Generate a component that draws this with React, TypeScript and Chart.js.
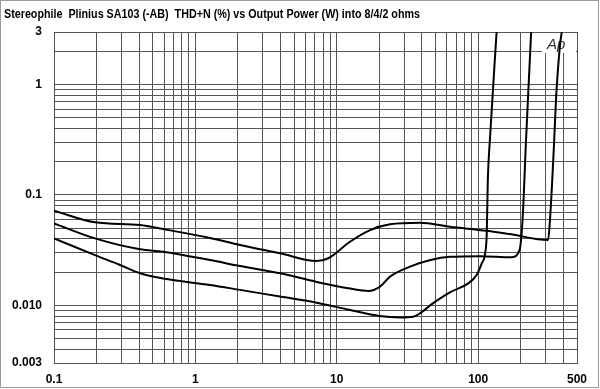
import React, { useEffect, useRef } from "react";
import { Chart, registerables } from "chart.js";
Chart.register(...registerables);

const TITLE = "Stereophile  Plinius SA103 (-AB)  THD+N (%) vs Output Power (W) into 8/4/2 ohms";

const xLabelValues = [0.1, 1, 10, 100, 500];
const xLabelTexts = ["0.1", "1", "10", "100", "500"];
const yLabelValues = [0.003, 0.01, 0.1, 1, 3];
const yLabelTexts = ["0.003", "0.010", "0.1", "1", "3"];

// Curve A (highest at low power, clips last)
const curveAPower = [0.1, 0.195, 0.406, 0.59, 1.27, 2.07, 3.97, 7.21, 8.71, 12.4, 17.2, 23.8, 38.7, 63.1, 115, 168, 312, 322, 345, 355, 379, 390];
const curveATHD = [0.072, 0.0565, 0.0534, 0.0491, 0.0407, 0.0352, 0.0296, 0.0252, 0.0267, 0.0377, 0.0481, 0.0542, 0.056, 0.0515, 0.0474, 0.0442, 0.039, 0.0593, 0.315, 0.724, 2.28, 3];

// Curve B (middle)
const curveBPower = [0.1, 0.195, 0.406, 0.59, 1.27, 2.07, 3.97, 7.21, 12.4, 16.7, 20.1, 23.8, 33.0, 46.0, 63.1, 103, 171, 196, 206, 218, 237];
const curveBTHD = [0.0553, 0.0404, 0.0322, 0.0306, 0.0257, 0.0227, 0.0195, 0.0163, 0.0142, 0.0135, 0.0147, 0.0182, 0.0224, 0.0257, 0.0275, 0.0279, 0.0272, 0.0317, 0.0593, 0.315, 3];

// Curve C (lowest, clips first)
const curveCPower = [0.1, 0.195, 0.293, 0.406, 0.59, 1.27, 2.07, 3.97, 7.21, 12.4, 20.1, 28.2, 34.8, 38.7, 47.8, 63.1, 85, 97.5, 106, 112, 115, 117, 121, 135];
const curveCTHD = [0.0404, 0.0285, 0.0232, 0.0195, 0.0175, 0.0153, 0.0138, 0.012, 0.01056, 0.00906, 0.008, 0.00777, 0.00788, 0.00845, 0.0104, 0.0131, 0.0158, 0.0188, 0.024, 0.0296, 0.0449, 0.136, 0.315, 3];

const FONT = "'Liberation Sans', Arial, Helvetica, sans-serif";

function logGridValues(min: number, max: number): number[] {
  const out: number[] = [];
  const e0 = Math.floor(Math.log10(min));
  const e1 = Math.ceil(Math.log10(max));
  for (let e = e0; e <= e1; e++) {
    for (let m = 1; m <= 9; m++) {
      const v = parseFloat((m * Math.pow(10, e)).toPrecision(4));
      if (v >= min * 0.9999 && v <= max * 1.0001) out.push(v);
    }
  }
  return out;
}

function labelFor(v: number, vals: number[], texts: string[]): string {
  for (let i = 0; i < vals.length; i++) {
    if (Math.abs(v - vals[i]) / vals[i] < 1e-6) return texts[i];
  }
  return "";
}

function toPoints(xs: number[], ys: number[]) {
  return xs.map((x, i) => ({ x, y: ys[i] }));
}

const decorPlugin = {
  id: "decor",
  beforeDatasetsDraw(chart: any) {
    const { ctx, chartArea } = chart;
    ctx.save();
    ctx.fillStyle = "#fff";
    ctx.fillRect(chartArea.right - 35, chartArea.top + 1, 34, 20);
    ctx.fillStyle = "#333";
    ctx.font = `italic 15px ${FONT}`;
    ctx.textBaseline = "alphabetic";
    ctx.fillText("Ap", chartArea.right - 30, chartArea.top + 17);
    ctx.restore();
  },
  afterDraw(chart: any) {
    const { ctx } = chart;
    ctx.save();
    ctx.fillStyle = "#000";
    ctx.font = `bold 12px ${FONT}`;
    ctx.textBaseline = "alphabetic";
    const w = ctx.measureText(TITLE).width;
    const target = 416;
    ctx.translate(4, 18);
    ctx.scale(target / w, 1);
    ctx.fillText(TITLE, 0, 0);
    ctx.restore();
    ctx.save();
    ctx.strokeStyle = "#9a9a9a";
    ctx.lineWidth = 1;
    ctx.strokeRect(0.5, 0.5, 598, 387);
    ctx.restore();
  },
};

export default function App() {
  const ref = useRef<HTMLCanvasElement | null>(null);

  useEffect(() => {
    document.body.style.margin = "0";
    const canvas = ref.current;
    if (!canvas) return;
    const ds = (xs: number[], ys: number[]) => ({
      data: toPoints(xs, ys),
      borderColor: "#000",
      borderWidth: 2,
      pointRadius: 0,
      fill: false,
      cubicInterpolationMode: "monotone" as const,
    });
    const grid = { color: "#555", lineWidth: 1, drawTicks: false };
    const chart = new Chart(canvas, {
      type: "line",
      data: {
        datasets: [ds(curveAPower, curveATHD), ds(curveBPower, curveBTHD), ds(curveCPower, curveCTHD)],
      },
      options: {
        animation: false,
        responsive: false,
        devicePixelRatio: 1,
        layout: { padding: { top: 32, right: 23, left: 0, bottom: 0 } },
        plugins: { legend: { display: false }, tooltip: { enabled: false }, title: { display: false } },
        scales: {
          x: {
            type: "logarithmic",
            min: 0.1,
            max: 500,
            grid,
            border: { color: "#555" },
            afterBuildTicks: (s: any) => {
              s.ticks = logGridValues(0.1, 500).map((v) => ({ value: v }));
            },
            afterFit: (s: any) => {
              s.height = 26;
            },
            ticks: {
              autoSkip: false,
              maxRotation: 0,
              padding: 9,
              color: "#000",
              font: { family: FONT, size: 12, weight: "bold" },
              callback: (v: any) => labelFor(Number(v), xLabelValues, xLabelTexts),
            },
          },
          y: {
            type: "logarithmic",
            min: 0.003,
            max: 3,
            grid,
            border: { color: "#555" },
            afterBuildTicks: (s: any) => {
              s.ticks = logGridValues(0.003, 3).map((v) => ({ value: v }));
            },
            afterFit: (s: any) => {
              s.width = 54;
            },
            ticks: {
              autoSkip: false,
              padding: 12,
              color: "#000",
              font: { family: FONT, size: 12, weight: "bold" },
              callback: (v: any) => labelFor(Number(v), yLabelValues, yLabelTexts),
            },
          },
        },
      } as any,
      plugins: [decorPlugin],
    });
    return () => chart.destroy();
  }, []);

  return (
    <div style={{ width: 600, height: 389, background: "#fff" }}>
      <canvas ref={ref} width={600} height={389} style={{ display: "block" }} />
    </div>
  );
}
